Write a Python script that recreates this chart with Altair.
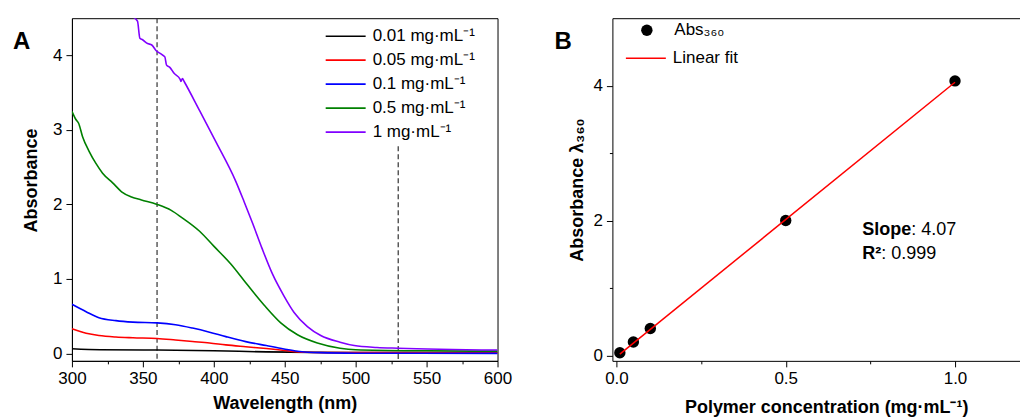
import altair as alt
import pandas as pd

FONT = "Liberation Sans"

# ---------------- Panel A data ----------------
conc_labels = ["0.01 mg·mL⁻¹", "0.05 mg·mL⁻¹", "0.1 mg·mL⁻¹", "0.5 mg·mL⁻¹", "1 mg·mL⁻¹"]
conc_colors = ["#000000", "#ff0000", "#0000ff", "#008000", "#8000ff"]

wl_001 = [300, 320, 360, 400, 437, 470, 500, 600]
abs_001 = [0.063, 0.05, 0.045, 0.036, 0.02, 0.014, 0.012, 0.01]

wl_005 = [300, 310, 319, 331, 343, 360, 373, 385, 397, 408.5, 422.5, 437, 450, 464, 480, 500, 600]
abs_005 = [0.33, 0.27, 0.24, 0.22, 0.21, 0.20, 0.18, 0.16, 0.14, 0.115, 0.09, 0.065, 0.04, 0.015, 0.01, 0.01, 0.01]

wl_01 = [300, 310, 319, 331, 343, 360, 373, 385, 397, 408.5, 422.5, 437, 449.5, 459, 475, 500, 600]
abs_01 = [0.66, 0.56, 0.48, 0.44, 0.42, 0.41, 0.385, 0.34, 0.285, 0.225, 0.158, 0.105, 0.06, 0.03, 0.01, 0.003, 0.0]

wl_05 = [300, 302.8, 304.7, 307.5, 312.2, 316.9, 321.6, 328.7, 335, 342, 349, 360, 370, 377, 390,
         400, 412, 423.7, 435.4, 447.2, 459, 473, 489, 500, 550, 600]
abs_05 = [3.25, 3.14, 3.09, 2.91, 2.71, 2.55, 2.42, 2.29, 2.17, 2.10, 2.06, 2.00, 1.92, 1.83, 1.64,
          1.44, 1.20, 0.92, 0.65, 0.41, 0.25, 0.14, 0.07, 0.05, 0.035, 0.03]

wl_1 = [342.5, 346.2, 347.9, 349.8, 353.3, 356.3, 359.6, 362.7, 365.5, 366.7, 369, 372, 376.3, 376.8,
        377.9, 379.1, 389.7, 401.5, 415.5, 421.3, 427.5, 434, 441.5, 449.5, 456.6, 466, 475.4, 489, 499,
        515, 530, 600]
abs_1 = [4.52, 4.46, 4.23, 4.21, 4.16, 4.14, 4.06, 4.02, 3.98, 3.87, 3.84, 3.76, 3.68, 3.65,
         3.69, 3.65, 3.27, 2.84, 2.31, 2.04, 1.74, 1.41, 1.06, 0.77, 0.55, 0.36, 0.24, 0.15, 0.105,
         0.08, 0.07, 0.045]

dash_wl = [360, 530]
dash_top = [4.5, 2.78]
dash_bottom = [-0.1, -0.1]

wl_ticks = [300, 325, 350, 375, 400, 425, 450, 475, 500, 525, 550, 575, 600]
absA_ticks = [0, 0.5, 1, 1.5, 2, 2.5, 3, 3.5, 4]

# ---------------- Panel B data ----------------
conc_x = [0.01, 0.05, 0.1, 0.5, 1.0]
abs360 = [0.04, 0.20, 0.40, 2.00, 4.07]
fit_x = [0.01, 1.0]
fit_y = [0.02, 4.05]
concB_ticks = [0, 0.25, 0.5, 0.75, 1.0]
absB_ticks = [0, 1, 2, 3, 4]

# ---------------- Build tables ----------------
series = [(wl_001, abs_001), (wl_005, abs_005), (wl_01, abs_01), (wl_05, abs_05), (wl_1, abs_1)]
rows = []
for lab, (w, a) in zip(conc_labels, series):
    for wi, ai in zip(w, a):
        rows.append({"wl": wi, "abs": ai, "conc": lab})
spec_df = pd.DataFrame(rows)
dash_df = pd.DataFrame({"wl": dash_wl, "abs": dash_top, "abs2": dash_bottom})

pts_df = pd.DataFrame({"c": conc_x, "a": abs360, "s": ["Abs₃₆₀"] * len(conc_x)})
fit_df = pd.DataFrame({"c": fit_x, "a": fit_y, "s": ["Linear fit"] * len(fit_x)})

common_axis = dict(
    labelFont=FONT, labelFontSize=17, labelColor="black",
    titleFont=FONT, titleFontSize=18, titleFontWeight="bold", titleColor="black",
    domainColor="black", tickColor="black", grid=False, labelPadding=4,
)


def tick_size(test):
    return {"condition": {"test": test, "value": 3}, "value": 6}


# ---------------- Panel A ----------------
xA = alt.X("wl:Q", scale=alt.Scale(domain=[300, 600], nice=False, zero=False),
           axis=alt.Axis(title="Wavelength (nm)", values=wl_ticks,
                         labelExpr="datum.value % 50 === 0 ? datum.label : ''",
                         tickSize=tick_size("datum.value % 50 !== 0"),
                         labelFlush=False, titlePadding=8, **common_axis))
yA = alt.Y("abs:Q", scale=alt.Scale(domain=[-0.1, 4.5], nice=False, zero=False),
           axis=alt.Axis(title="Absorbance", values=absA_ticks, format="d",
                         labelExpr="datum.value % 1 === 0 ? datum.label : ''",
                         tickSize=tick_size("datum.value % 1 !== 0"),
                         labelFlush=False, titlePadding=12, titleY=162, **common_axis))

linesA = alt.Chart(spec_df).mark_line(strokeWidth=1.6, clip=True, interpolate="monotone").encode(
    x=xA, y=yA,
    color=alt.Color("conc:N", scale=alt.Scale(domain=conc_labels, range=conc_colors),
                    legend=alt.Legend(title=None, orient="none", legendX=253, legendY=8,
                                      symbolType="stroke", symbolSize=1600, symbolStrokeWidth=1.6,
                                      labelFont=FONT, labelFontSize=17, labelColor="black",
                                      labelOffset=6, clipHeight=20, rowPadding=4, padding=0,
                                      labelLimit=400)),
)

dashA = alt.Chart(dash_df).mark_rule(strokeDash=[5, 3], color="#333333", strokeWidth=1.2).encode(
    x=xA, y=yA, y2="abs2:Q")

labelA = alt.Chart(pd.DataFrame({"t": ["A"]})).mark_text(
    font=FONT, fontSize=24, fontWeight="bold", align="left", baseline="alphabetic", color="black"
).encode(text="t:N", x=alt.value(-59), y=alt.value(31))

panelA = alt.layer(dashA, linesA, labelA).properties(
    width=426, height=343, view=alt.ViewBackground(stroke="black", strokeWidth=1))

# ---------------- Panel B ----------------
B_OFFSET = 541  # panel B plot origin relative to panel A plot origin (legends live at top level)

xB_scale = alt.Scale(domain=[-0.012, 1.192], nice=False, zero=False)
yB_scale = alt.Scale(domain=[-0.08, 5.0], nice=False, zero=False)

xB = alt.X("c:Q", scale=xB_scale,
           axis=alt.Axis(title="Polymer concentration (mg·mL⁻¹)", values=concB_ticks, format=".1f",
                         labelExpr="abs(datum.value * 2 - round(datum.value * 2)) < 0.01 ? datum.label : ''",
                         tickSize=tick_size("abs(datum.value * 2 - round(datum.value * 2)) > 0.01"),
                         labelFlush=False, titlePadding=12, titleX=214, **common_axis))
xB_top = alt.X("c:Q", scale=xB_scale,
               axis=alt.Axis(orient="top", title=None, labels=False, ticks=False, domain=True,
                             domainColor="black", grid=False))
xB_plain = alt.X("c:Q", scale=xB_scale, axis=None)
yB = alt.Y("a:Q", scale=yB_scale,
           axis=alt.Axis(title="Absorbance λ₃₆₀", values=absB_ticks, format="d",
                         labelExpr="datum.value % 2 === 0 ? datum.label : ''",
                         tickSize=tick_size("datum.value % 2 !== 0"),
                         labelFlush=False, titlePadding=6, **common_axis))

ptsB = alt.Chart(pts_df).mark_circle(size=130, opacity=1).encode(
    x=xB, y=yB,
    fill=alt.Fill("s:N", scale=alt.Scale(domain=["Abs₃₆₀"], range=["#000000"]),
                  legend=alt.Legend(title=None, orient="none", legendX=B_OFFSET + 26, legendY=2,
                                    symbolType="circle", symbolSize=130, symbolStrokeWidth=0,
                                    labelFont=FONT, labelFontSize=17, labelColor="black",
                                    labelOffset=19, clipHeight=20, padding=0, labelLimit=300)),
)
fitB = alt.Chart(fit_df).mark_line(strokeWidth=1.5).encode(
    x=xB_top, y=yB,
    stroke=alt.Stroke("s:N", scale=alt.Scale(domain=["Linear fit"], range=["#ff0000"]),
                      legend=alt.Legend(title=None, orient="none", legendX=B_OFFSET + 12.5, legendY=30,
                                        symbolType="stroke", symbolSize=1600, symbolStrokeWidth=1.5,
                                        labelFont=FONT, labelFontSize=17, labelColor="black",
                                        labelOffset=6, clipHeight=20, padding=0, labelLimit=300)),
)

annot_x = [0.726, 0.726]
annot_y = [1.788, 1.427]
annot_bold = ["Slope", "R²"]
annot_rest = [": 4.07", ": 0.999"]
annot_dx = [49, 19]
annot_df = pd.DataFrame({"c": annot_x, "a": annot_y, "b": annot_bold, "r": annot_rest})

annB_bold = alt.Chart(annot_df).mark_text(
    font=FONT, fontSize=18, fontWeight="bold", align="left", baseline="alphabetic", color="black"
).encode(x=xB_plain, y=yB, text="b:N")

annB_rest = [
    alt.Chart(annot_df.iloc[[i]]).mark_text(
        font=FONT, fontSize=18, align="left", baseline="alphabetic", color="black", dx=annot_dx[i]
    ).encode(x=xB_plain, y=yB, text="r:N")
    for i in range(len(annot_dx))
]

labelB = alt.Chart(pd.DataFrame({"t": ["B"]})).mark_text(
    font=FONT, fontSize=24, fontWeight="bold", align="left", baseline="alphabetic", color="black"
).encode(text="t:N", x=alt.value(-58), y=alt.value(30.5))

panelB = alt.layer(ptsB, fitB, annB_bold, *annB_rest, labelB).resolve_axis(x="independent").properties(
    width=408, height=343, view=alt.ViewBackground(stroke=None, strokeWidth=0))

chart = alt.hconcat(panelA, panelB, spacing=115, bounds="flush").properties(
    padding={"left": 4, "top": 8, "right": 0, "bottom": 0}
).configure(font=FONT).configure_view(stroke="black")

chart.save("out.html", embed_options={"renderer": "svg", "actions": False})
